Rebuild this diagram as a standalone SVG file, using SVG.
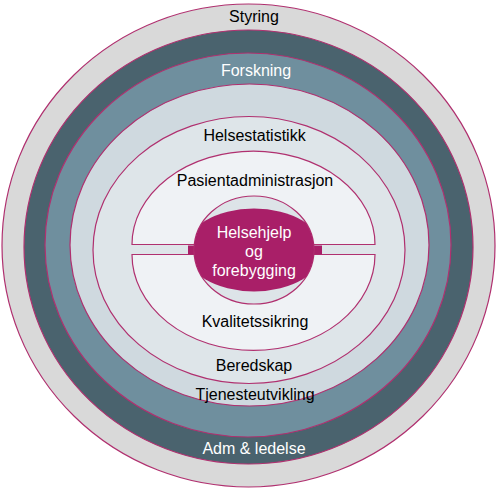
<svg xmlns="http://www.w3.org/2000/svg" width="498" height="490" viewBox="0 0 498 490">
  <style>
    .ring { stroke: #b0306f; stroke-width: 1.2; }
    .lbl { font-family: "Liberation Sans", Arial, sans-serif; font-size: 16px; text-anchor: middle; fill: #000; }
    .w { fill: #ffffff; }
  </style>
  <defs>
    <clipPath id="coreClip">
      <ellipse cx="254" cy="250" rx="60" ry="54"/>
    </clipPath>
  </defs>
  <rect width="498" height="490" fill="#ffffff"/>

  <g id="styring">
    <ellipse class="ring" cx="248.5" cy="245.5" rx="246.5" ry="241.5" fill="#d9d9d9"/>
    <text class="lbl" x="254" y="22">Styring</text>
  </g>
  <g id="adm-ledelse">
    <ellipse class="ring" cx="248.5" cy="247" rx="224.5" ry="217" fill="#4a636e"/>
    <text class="lbl w" x="254" y="454">Adm &amp; ledelse</text>
  </g>
  <g id="forskning">
    <ellipse class="ring" cx="248" cy="245" rx="203" ry="192" fill="#6f8f9e"/>
    <text class="lbl w" x="256" y="76">Forskning</text>
  </g>
  <g id="tjenesteutvikling">
    <ellipse class="ring" cx="249.5" cy="245" rx="179.5" ry="161" fill="#cfd9df"/>
    <text class="lbl" x="255" y="400">Tjenesteutvikling</text>
  </g>
  <g id="helsestatistikk-beredskap">
    <ellipse class="ring" cx="249" cy="250" rx="156" ry="133.5" fill="#dee5e9"/>
    <text class="lbl" x="254.5" y="141">Helsestatistikk</text>
    <text class="lbl" x="254" y="371">Beredskap</text>
  </g>
  <g id="pasientadministrasjon">
    <path class="ring" d="M132,244.5 A121.5,93.5 0 0 1 375,244.5 Z" fill="#eff2f5"/>
    <text class="lbl" x="255" y="186">Pasientadministrasjon</text>
  </g>
  <g id="kvalitetssikring">
    <path class="ring" d="M132,254.5 A121.5,96 0 0 0 375,254.5 Z" fill="#eff2f5"/>
    <text class="lbl" x="255" y="327">Kvalitetssikring</text>
  </g>
  <g id="helsehjelp">
    <rect x="188" y="245.5" width="134" height="9" fill="#a91f68"/>
    <ellipse class="ring" cx="254" cy="250" rx="60" ry="54" fill="#dde4e8"/>
    <ellipse cx="254" cy="250" rx="69" ry="41.5" fill="#a91f68" clip-path="url(#coreClip)"/>
    <text class="lbl w" x="254" y="238">Helsehjelp</text>
    <text class="lbl w" x="254" y="257">og</text>
    <text class="lbl w" x="254" y="276">forebygging</text>
  </g>
</svg>
